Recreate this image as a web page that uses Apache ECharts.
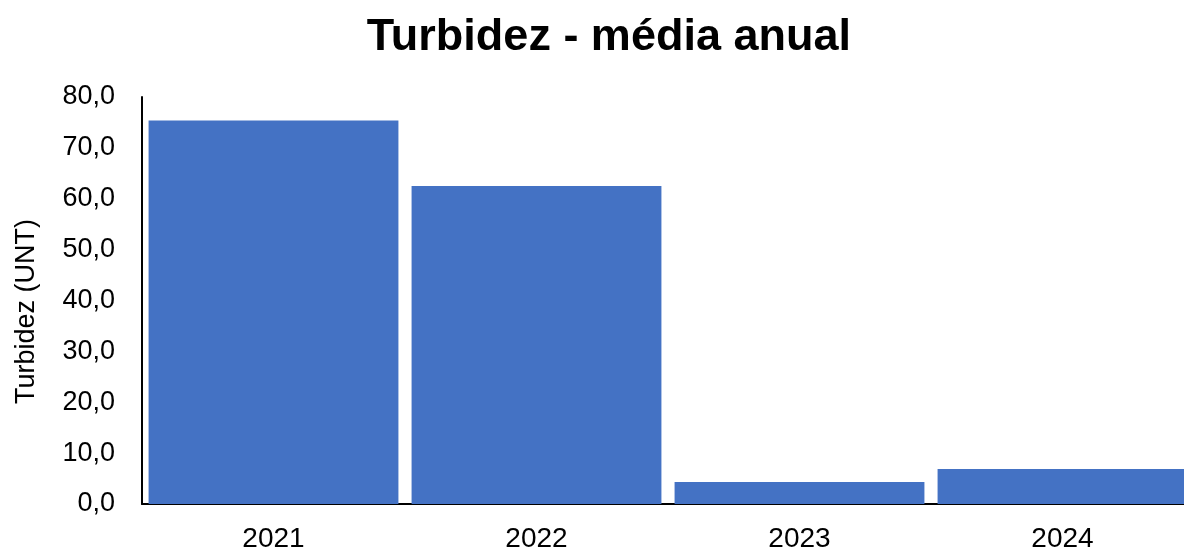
<!DOCTYPE html>
<html>
<head>
<meta charset="utf-8">
<script src="https://cdn.jsdelivr.net/npm/echarts@6/dist/echarts.min.js"></script>
<style>
  html, body { margin: 0; padding: 0; background: #fff; }
  #chart { width: 1184px; height: 550px; }
</style>
</head>
<body>
<div id="chart"></div>
<script>
"use strict";
// data
var years = ['2021', '2022', '2023', '2024'];
var turbidez = [75.4, 62.5, 4.3, 6.9];
var yTicks = [0, 80, 10]; // min, max, interval

echarts.init(document.getElementById('chart'))
.setOption({
  backgroundColor: '#fff',
  color: ['#4472C4'],
  textStyle: {
    fontFamily: 'Liberation Sans, Arial, sans-serif',
    color: '#000'
  },
  title: {
    text: 'Turbidez - média anual',
    left: '51%',
    textAlign: 'center',
    top: 10,
    textStyle: {
      fontSize: 45,
      fontWeight: 'bold',
      color: '#000'
    }
  },
  grid: {
    left: 142,
    width: 1052,   // last bar runs off the right edge, as in the reference
    top: 97,
    bottom: 46,
    outerBoundsMode: 'none',
    containLabel: false
  },
  xAxis: {
    type: 'category',
    data: years,
    axisLine: { lineStyle: { color: '#000', width: 2 } },
    axisTick: { show: false },
    axisLabel: {
      fontSize: 28,
      color: '#000',
      margin: 21
    }
  },
  yAxis: {
    type: 'value',
    min: yTicks[0],
    max: yTicks[1],
    interval: yTicks[2],
    name: 'Turbidez (UNT)',
    nameLocation: 'middle',
    nameGap: 102,
    nameTextStyle: {
      fontSize: 27,
      color: '#000',
      padding: [0, 22, 0, 0]  // nudges the title a bit below the axis middle
    },
    axisLine: { show: true, lineStyle: { color: '#000', width: 2 } },
    axisTick: { show: false },
    splitLine: { show: false },
    axisLabel: {
      fontSize: 27,
      color: '#000',
      margin: 27,
      formatter: function (v) { return v.toFixed(1).replace('.', ','); }
    }
  },
  series: [
    {
      type: 'bar',
      data: turbidez,
      barCategoryGap: '5%',
      itemStyle: { color: '#4472C4' }
    }
  ]
});
</script>
</body>
</html>
